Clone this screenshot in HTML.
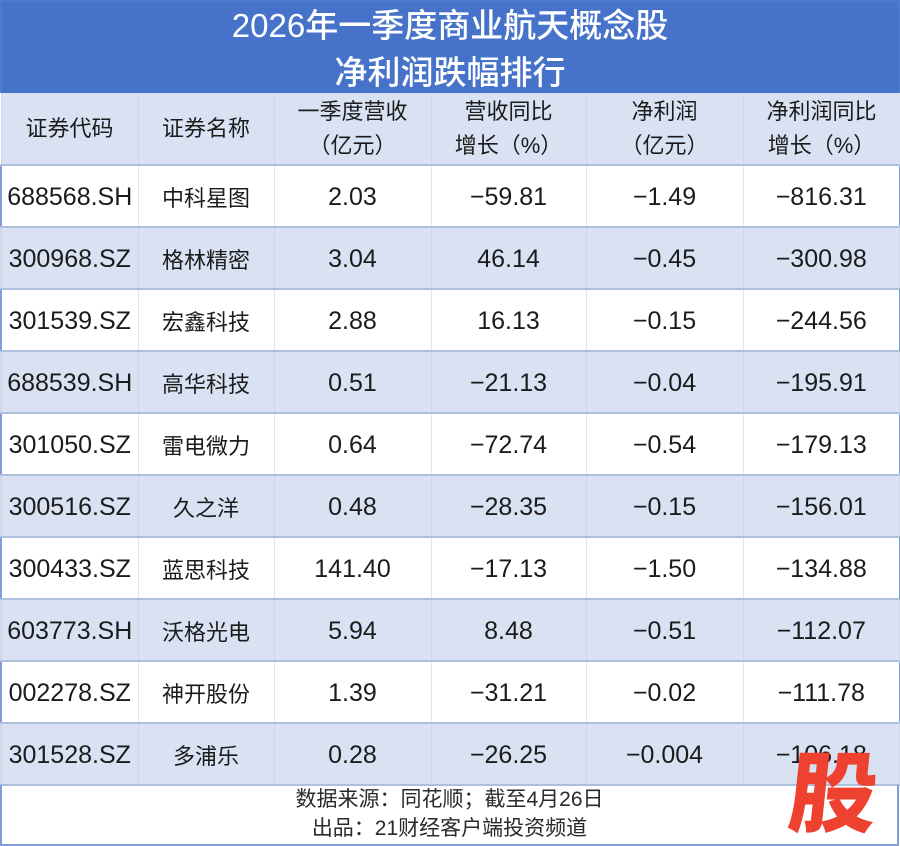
<!DOCTYPE html>
<html><head><meta charset="utf-8">
<style>
*{margin:0;padding:0;box-sizing:border-box}
html,body{width:900px;height:846px;overflow:hidden;background:#fff}
body{position:relative;font-family:"Liberation Sans","Noto Sans CJK SC",sans-serif;color:#1b1b1b}
.title{position:absolute;left:0;top:0;width:900px;height:93px;background:#4673c9;color:#fff;text-align:center;font-family:"Liberation Sans","Noto Sans CJK SC",sans-serif;font-size:33px;font-weight:500;border:2px solid #4d7bd0;border-bottom:none}
.title div{position:absolute;left:0;width:100%;line-height:40px}
table{position:absolute;left:0;top:93px;width:899px;border-collapse:collapse;table-layout:fixed}
td{text-align:center;vertical-align:middle;border-left:1px solid #e2e2e2;border-right:1px solid #e2e2e2;border-bottom:2px solid #aebfdc;padding:0;white-space:nowrap;overflow:visible}
tr.h td{height:72px;background:#d9e2f3;font-family:"Liberation Sans","Noto Sans CJK SC",sans-serif;font-size:22px;line-height:34px;border-left:1px solid #d0d9ea;border-right:1px solid #d0d9ea;border-bottom:2px solid #aebfdc}
tr.r td{height:62px;font-size:25px;padding-top:2px}
tr.r:nth-child(odd) td{background:#d9e2f3;border-left-color:#d0d9ea;border-right-color:#d0d9ea}
tr.r:nth-child(even) td{background:#fff}
td.n{font-family:"Noto Sans CJK SC",sans-serif;font-size:22px !important}
td:first-child{border-left:2px solid #7f9fd6}
td:last-child{border-right:2px solid #7f9fd6}
.foot{position:absolute;left:0;top:785px;width:899px;height:61px;border-left:2px solid #7f9fd6;border-right:2px solid #7f9fd6;border-bottom:2px solid #7f9fd6;text-align:center;font-family:"Liberation Sans","Noto Sans CJK SC",sans-serif;font-size:21px;color:#2a2a2a}
.foot div{position:absolute;left:0;width:100%;line-height:26px}
.logo{position:absolute;left:784px;top:744px;width:100px;text-align:center;font-family:"Noto Sans CJK SC",sans-serif;font-weight:900;font-size:88px;line-height:88px;color:#ee4130;transform:skewX(-6deg)}
</style></head><body>
<div class="title"><div style="top:4px">2026年一季度商业航天概念股</div><div style="top:51px">净利润跌幅排行</div></div>
<table>
<colgroup><col style="width:137px"><col style="width:136px"><col style="width:157px"><col style="width:155px"><col style="width:157px"><col style="width:157px"></colgroup>
<tr class="h"><td>证券代码</td><td>证券名称</td><td>一季度营收<br>（亿元）</td><td>营收同比<br>增长（%）</td><td>净利润<br>（亿元）</td><td>净利润同比<br>增长（%）</td></tr>
<tr class="r"><td>688568.SH</td><td class="n">中科星图</td><td>2.03</td><td>−59.81</td><td>−1.49</td><td>−816.31</td></tr>
<tr class="r"><td>300968.SZ</td><td class="n">格林精密</td><td>3.04</td><td>46.14</td><td>−0.45</td><td>−300.98</td></tr>
<tr class="r"><td>301539.SZ</td><td class="n">宏鑫科技</td><td>2.88</td><td>16.13</td><td>−0.15</td><td>−244.56</td></tr>
<tr class="r"><td>688539.SH</td><td class="n">高华科技</td><td>0.51</td><td>−21.13</td><td>−0.04</td><td>−195.91</td></tr>
<tr class="r"><td>301050.SZ</td><td class="n">雷电微力</td><td>0.64</td><td>−72.74</td><td>−0.54</td><td>−179.13</td></tr>
<tr class="r"><td>300516.SZ</td><td class="n">久之洋</td><td>0.48</td><td>−28.35</td><td>−0.15</td><td>−156.01</td></tr>
<tr class="r"><td>300433.SZ</td><td class="n">蓝思科技</td><td>141.40</td><td>−17.13</td><td>−1.50</td><td>−134.88</td></tr>
<tr class="r"><td>603773.SH</td><td class="n">沃格光电</td><td>5.94</td><td>8.48</td><td>−0.51</td><td>−112.07</td></tr>
<tr class="r"><td>002278.SZ</td><td class="n">神开股份</td><td>1.39</td><td>−31.21</td><td>−0.02</td><td>−111.78</td></tr>
<tr class="r"><td>301528.SZ</td><td class="n">多浦乐</td><td>0.28</td><td>−26.25</td><td>−0.004</td><td>−106.18</td></tr>
</table>
<div class="foot"><div style="top:2px">数据来源：同花顺；截至4月26日</div><div style="top:31px">出品：21财经客户端投资频道</div></div>
<div class="logo">股</div>
</body></html>
